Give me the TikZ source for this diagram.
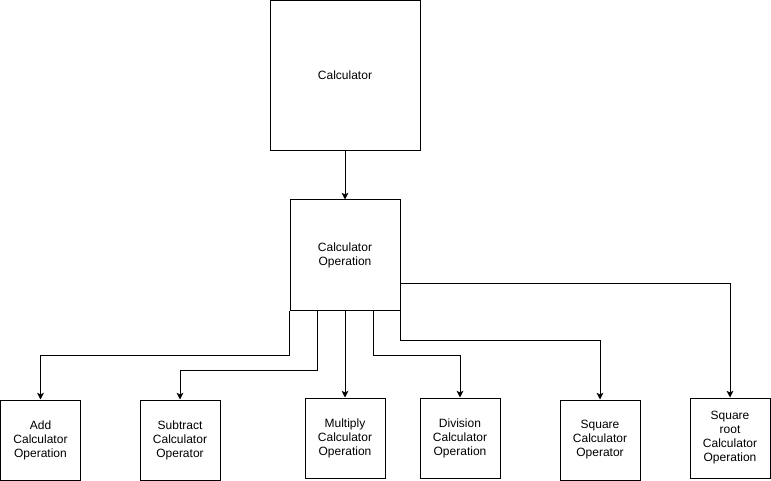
\documentclass[tikz,border=0pt]{standalone}
\usepackage{fontspec}
\setmainfont{Liberation Sans}
\usetikzlibrary{arrows.meta,calc}
\begin{document}
\begin{tikzpicture}[x=0.75pt,y=-0.75pt,
  box/.style={draw, line width=0.75pt, align=center, inner sep=0pt,
    font=\fontsize{9}{10.5}\selectfont},
  bigbox/.style={box, minimum width=112.5pt, minimum height=112.5pt},
  midbox/.style={box, minimum width=82.5pt, minimum height=82.5pt},
  smallbox/.style={box, minimum width=60pt, minimum height=60pt},
  conn/.style={draw, line width=0.75pt, -{Stealth[length=5pt,width=5pt,inset=1.2pt]}}]
\useasboundingbox (0,0) rectangle (771,481);
\node[bigbox] (calc) at (345,75.5) {Calculator};
\node[midbox] (op) at (345,255) {Calculator\\Operation};
\node[smallbox] (add) at (40.5,440) {Add\\Calculator\\Operation};
\node[smallbox] (sub) at (180,440) {Subtract\\Calculator\\Operator};
\node[smallbox] (mul) at (345,438) {Multiply\\Calculator\\Operation};
\node[smallbox] (div) at (460,438) {Division\\Calculator\\Operation};
\node[smallbox] (sq) at (600,440) {Square\\Calculator\\Operator};
\node[smallbox] (sqrt) at (730,438) {Square\\root\\Calculator\\Operation};
\draw[conn] (calc.south) -- (op.north);
\draw[conn] (op.south west) -- ++(0,45) -| (add.north);
\draw[conn] ($(op.south west)+(28,0)$) -- ++(0,60) -| (sub.north);
\draw[conn] (op.south) -- (mul.north);
\draw[conn] ($(op.south)+(28,0)$) -- ++(0,45) -| (div.north);
\draw[conn] (op.south east) -- ++(0,30) -| (sq.north);
\draw[conn] ($(op.east)+(0,28)$) -| (sqrt.north);
\end{tikzpicture}
\end{document}
